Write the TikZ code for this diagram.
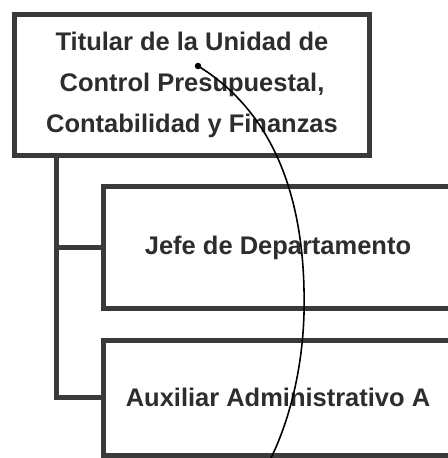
\documentclass[tikz,border=0pt]{standalone}
\usepackage{fontspec}
\setmainfont{Liberation Sans}
\usepackage{xcolor}
\usepackage{tikz}
\usetikzlibrary{positioning,arrows.meta,calc}
\definecolor{orgline}{RGB}{58,58,58}
\definecolor{orgtext}{RGB}{45,45,45}
\tikzset{
  headbox/.style={draw=orgline, line width=2.85pt, fill=white, align=center, outer sep=0pt, inner sep=0pt, minimum width=7.11cm, minimum height=2.81cm, text=orgtext, font=\bfseries\fontsize{14.5}{23.3}\selectfont},
  staffbox/.style={draw=orgline, line width=2.85pt, fill=white, align=center, outer sep=0pt, inner sep=0pt, minimum width=6.99cm, text=orgtext, font=\bfseries\fontsize{14.5}{17}\selectfont},
  orglink/.style={draw=orgline, line width=2.85pt},
  penline/.style={draw=black, line width=0.9pt},
}
\begin{document}
\begin{tikzpicture}
    \useasboundingbox (0,0) rectangle (8.96,-9.16);
    \clip (0,0) rectangle (8.96,-9.16);
    \node[headbox] (titular) at (3.84,-1.70) {Titular de la Unidad de\\Control Presupuestal,\\Contabilidad y Finanzas};
    \node[staffbox, minimum height=2.44cm, below right=0.63cm and 1.78cm of titular.south west] (jefe) {Jefe de Departamento};
    \node[staffbox, minimum height=2.30cm, below=0.63cm of jefe] (aux) {Auxiliar Administrativo A};
    % tronco del organigrama
    \coordinate (trunk) at ([xshift=0.84cm]titular.south west);
    \draw[orglink] (trunk) |- (aux.west);
    \draw[orglink] (jefe.west) -- (jefe.west -| trunk);
    % trazo a mano
    \coordinate (penend) at (3.96,-1.32);
    \coordinate (penmid) at (6.08,-5.80);
    \coordinate (penstart) at (5.40,-9.20);
    \draw[penline] (penend) .. controls (5.40,-2.20) and (6.04,-3.80) .. (penmid)
      .. controls (6.12,-7.20) and (5.80,-8.40) .. (penstart);
    \fill[black] (penend) circle (0.065);
  \end{tikzpicture}
\end{document}
